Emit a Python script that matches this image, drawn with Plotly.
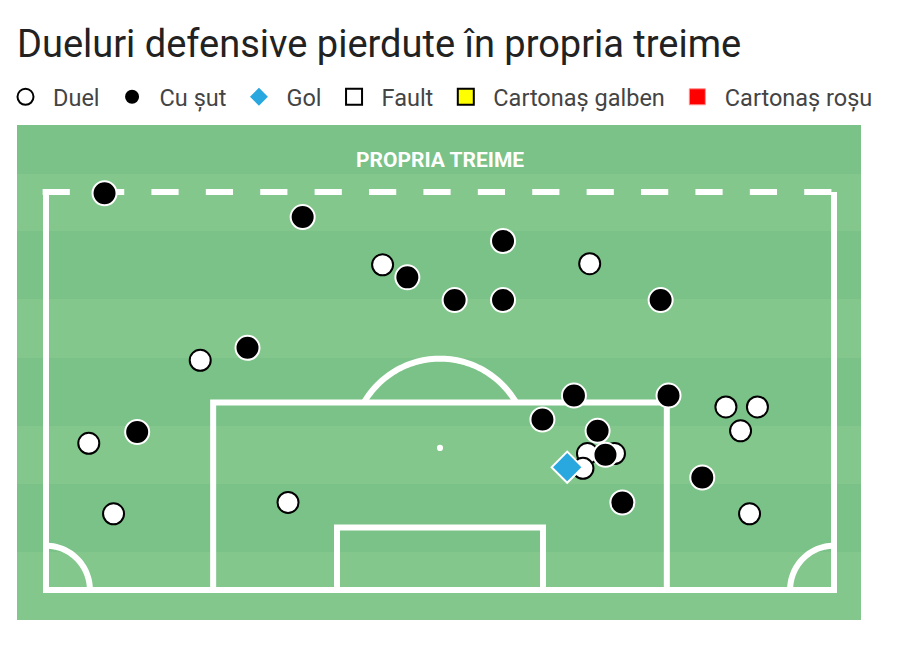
import numpy as np
import plotly.graph_objects as go

# ---- data (pitch coordinates: x 0..70 across, y 0..35 from goal line) ----
duel_x = [29.9, 48.3, 13.7, 3.8, 6.0, 21.5, 60.4, 63.2, 61.7, 62.5, 48.1, 50.5, 47.7]
duel_y = [28.6, 28.7, 20.2, 12.9, 6.7, 7.7, 16.1, 16.1, 14.0, 6.7, 12.0, 12.0, 10.7]

shot_x = [5.2, 22.8, 40.6, 32.1, 36.3, 40.6, 54.6, 17.9, 8.1, 46.9, 55.3, 44.1, 49.0, 49.7, 51.2, 58.3]
shot_y = [34.9, 32.8, 30.7, 27.5, 25.5, 25.5, 25.5, 21.3, 13.9, 17.1, 17.1, 15.0, 14.0, 11.9, 7.7, 9.9]

goal_x = [46.3]
goal_y = [10.8]

legend_names = ["Duel", "Cu șut", "Gol", "Fault", "Cartonaș galben", "Cartonaș roșu"]
title_text = "Dueluri defensive pierdute în propria treime"
zone_label = "PROPRIA TREIME"

# ---- pitch geometry ----
W, D = 70.0, 35.0
LIGHT = "rgb(131,199,140)"
DARK = "rgb(122,194,135)"
LINE = "white"
LW = 6

# green field extents (data units)
GX0, GX1 = -2.576, 72.40
# axis ranges: plot area spans whole figure width
X0, X1 = -3.376, 75.864
Y0, Y1 = -2.639, 40.90

fig = go.Figure()

shapes = []
# field background
shapes.append(dict(type="rect", xref="x", yref="paper", x0=GX0, x1=GX1, y0=0, y1=1,
                   fillcolor=LIGHT, line=dict(width=0), layer="below"))
# stripes
for a, b in [(40.90, 36.59), (31.57, 25.59), (20.40, 14.42), (9.32, 3.34)]:
    shapes.append(dict(type="rect", xref="x", yref="y", x0=GX0, x1=GX1, y0=b, y1=a,
                       fillcolor=DARK, line=dict(width=0), layer="below"))

def seg_path(pts):
    return "M " + " L ".join(f"{x:.3f},{y:.3f}" for x, y in pts)

line_style = dict(color=LINE, width=LW)
# outer lines (sides + goal line)
shapes.append(dict(type="path", path=seg_path([(0, D), (0, 0), (W, 0), (W, D)]),
                   line=line_style, layer="below"))
# dashed top line (third line)
shapes.append(dict(type="line", x0=-0.3, x1=W + 0.27, y0=D, y1=D,
                   line=dict(color=LINE, width=LW, dash="27.2px,27.2px"), layer="below"))
# penalty box
shapes.append(dict(type="path", path=seg_path([(14.85, 0), (14.85, 16.5), (55.15, 16.5), (55.15, 0)]),
                   line=line_style, layer="below"))
# six-yard box
shapes.append(dict(type="path", path=seg_path([(25.85, 0), (25.85, 5.5), (44.15, 5.5), (44.15, 0)]),
                   line=line_style, layer="below"))
# D arc
cx, cy, r = 35.0, 12.5, 7.85
a0 = np.arcsin((16.5 - cy) / r)
ang = np.linspace(a0, np.pi - a0, 60)
shapes.append(dict(type="path", path=seg_path(list(zip(cx + r * np.cos(ang), cy + r * np.sin(ang)))),
                   line=line_style, layer="below"))
# corner arcs
rc = 3.9
ang = np.linspace(0, np.pi / 2, 30)
shapes.append(dict(type="path", path=seg_path(list(zip(rc * np.cos(ang), rc * np.sin(ang)))),
                   line=line_style, layer="below"))
ang = np.linspace(np.pi / 2, np.pi, 30)
shapes.append(dict(type="path", path=seg_path(list(zip(W + rc * np.cos(ang), rc * np.sin(ang)))),
                   line=line_style, layer="below"))
# penalty spot
shapes.append(dict(type="circle", x0=cx - 0.27, x1=cx + 0.27, y0=cy - 0.27, y1=cy + 0.27,
                   fillcolor=LINE, line=dict(width=0), layer="below"))

# ---- traces ----
fig.add_trace(go.Scatter(x=duel_x, y=duel_y, mode="markers", name=legend_names[0],
                         marker=dict(symbol="circle", size=21, color="white",
                                     line=dict(color="black", width=2)),
                         hoverinfo="skip"))
fig.add_trace(go.Scatter(x=shot_x, y=shot_y, mode="markers", name=legend_names[1],
                         marker=dict(symbol="circle", size=24, color="black",
                                     line=dict(color="white", width=2)),
                         hoverinfo="skip"))
fig.add_trace(go.Scatter(x=goal_x, y=goal_y, mode="markers", name=legend_names[2],
                         marker=dict(symbol="diamond", size=24, color="#29A8E0",
                                     line=dict(color="white", width=2)),
                         hoverinfo="skip"))
fig.add_trace(go.Scatter(x=[None], y=[None], mode="markers", name=legend_names[3],
                         marker=dict(symbol="square", size=16, color="white",
                                     line=dict(color="black", width=2))))
fig.add_trace(go.Scatter(x=[None], y=[None], mode="markers", name=legend_names[4],
                         marker=dict(symbol="square", size=16, color="#FFFF00",
                                     line=dict(color="black", width=2))))
fig.add_trace(go.Scatter(x=[None], y=[None], mode="markers", name=legend_names[5],
                         marker=dict(symbol="square", size=16, color="#FF0000",
                                     line=dict(color="#FF9090", width=1))))

fig.add_annotation(x=35, xref="x", y=37.8, yref="y", text=zone_label, showarrow=False,
                   font=dict(family="Roboto", size=21, color="white", weight="bold"),
                   xanchor="center", yanchor="middle")

fig.update_layout(
    width=892, height=639, autosize=False,
    margin=dict(l=0, r=0, t=117, b=27, pad=0, autoexpand=False),
    paper_bgcolor="white", plot_bgcolor="white",
    shapes=shapes,
    title=dict(text=title_text, x=9 / 892, xref="container", xanchor="left",
               y=1 - 36 / 639, yref="container", yanchor="middle",
               font=dict(family="Roboto", size=38, color="#222222")),
    legend=dict(orientation="h", x=-10 / 892, xanchor="left", y=(620 - 97) / 495, yanchor="middle",
                font=dict(family="Roboto", size=23.5, color="#444444"),
                itemwidth=45, bgcolor="rgba(0,0,0,0)", borderwidth=0,
                itemclick=False, itemdoubleclick=False),
    xaxis=dict(range=[X0, X1], visible=False, fixedrange=True),
    yaxis=dict(range=[Y0, Y1], visible=False, fixedrange=True),
    showlegend=True,
)

fig.write_html("out.html")
